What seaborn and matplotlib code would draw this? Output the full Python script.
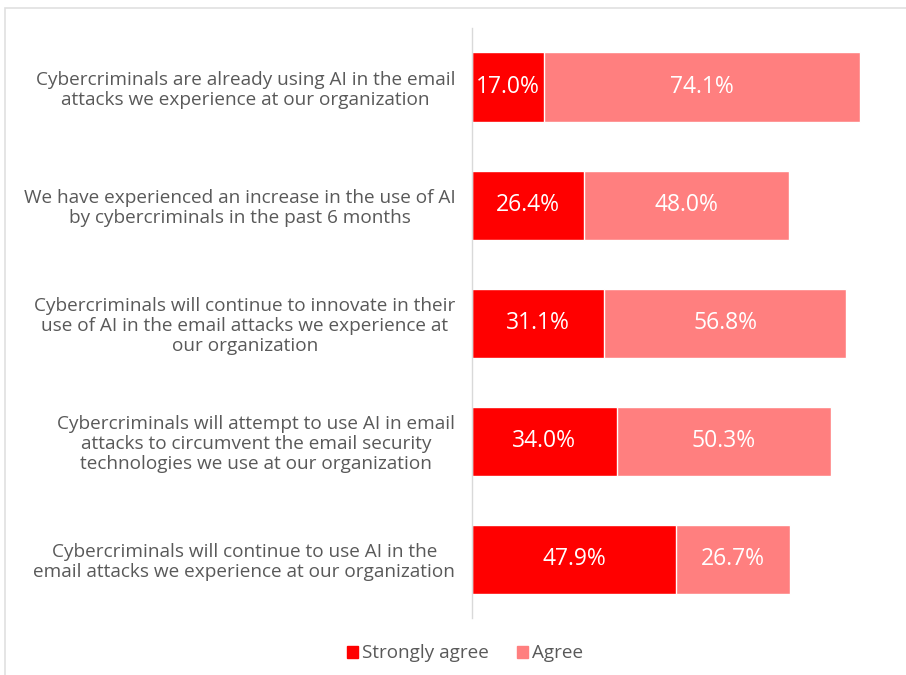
import matplotlib
matplotlib.use("Agg")
import matplotlib.pyplot as plt
import seaborn as sns
import pandas as pd
from matplotlib.patches import Rectangle, Patch

categories = [
    "Cybercriminals are already using AI in the email\nattacks we experience at our organization",
    "We have experienced an increase in the use of AI\nby cybercriminals in the past 6 months",
    "Cybercriminals will continue to innovate in their\nuse of AI in the email attacks we experience at\nour organization",
    "Cybercriminals will attempt to use AI in email\nattacks to circumvent the email security\ntechnologies we use at our organization",
    "Cybercriminals will continue to use AI in the\nemail attacks we experience at our organization",
]
strongly_agree = [17.0, 26.4, 31.1, 34.0, 47.9]
agree = [74.1, 48.0, 56.8, 50.3, 26.7]
series_names = ["Strongly agree", "Agree"]

c_strong = "#FF0000"
c_agree = "#FF7F7F"
text_col = "#595959"

sns.set_theme(style="white")
plt.rcParams["font.family"] = ["Open Sans", "DejaVu Sans"]

df = pd.DataFrame({"cat": categories, "strong": strongly_agree, "agree": agree})
df["total"] = df["strong"] + df["agree"]

fig = plt.figure(figsize=(9.06, 6.75), dpi=100)
ax = fig.add_axes([0.521, 0.0844, 0.47, 0.8741])

sns.barplot(data=df, y="cat", x="total", color=c_agree, orient="h", width=0.585,
            ax=ax, saturation=1, order=categories)
sns.barplot(data=df, y="cat", x="strong", color=c_strong, orient="h", width=0.585,
            ax=ax, saturation=1, order=categories)

for i, (s, a) in enumerate(zip(strongly_agree, agree)):
    ax.text(s / 2, i, f"{s:.1f}%", color="white", ha="center", va="center", fontsize=16.5)
    ax.text(s + a / 2, i, f"{a:.1f}%", color="white", ha="center", va="center", fontsize=16.5)

ax.set_xlim(0, 100)
ax.set_ylim(4.5, -0.5)
ax.set_xlabel("")
ax.set_ylabel("")
ax.set_xticks([])
for sp in ["top", "right", "bottom"]:
    ax.spines[sp].set_visible(False)
ax.spines["left"].set_color("#d9d9d9")
ax.spines["left"].set_linewidth(1)
ax.tick_params(axis="y", length=0, pad=12)
for lbl in ax.get_yticklabels():
    lbl.set_multialignment("center")
    lbl.set_color(text_col)
    lbl.set_fontsize(13.7)
    lbl.set_linespacing(1.15)

handles = [Patch(color=c_strong, label=series_names[0]), Patch(color=c_agree, label=series_names[1])]
leg = fig.legend(handles=handles, loc="center", bbox_to_anchor=(0.513, 0.032), ncol=2,
                 frameon=False, fontsize=13.6, handlelength=0.6, handleheight=0.6,
                 handletextpad=0.2, columnspacing=1.5)
for t in leg.get_texts():
    t.set_color(text_col)

fig.patches.append(Rectangle((5 / 906, -0.1), 1.2, (675 - 8) / 675 + 0.1, transform=fig.transFigure,
                             fill=False, edgecolor="#e0e0e0", linewidth=1.2))

fig.savefig("out.png", dpi=100)
